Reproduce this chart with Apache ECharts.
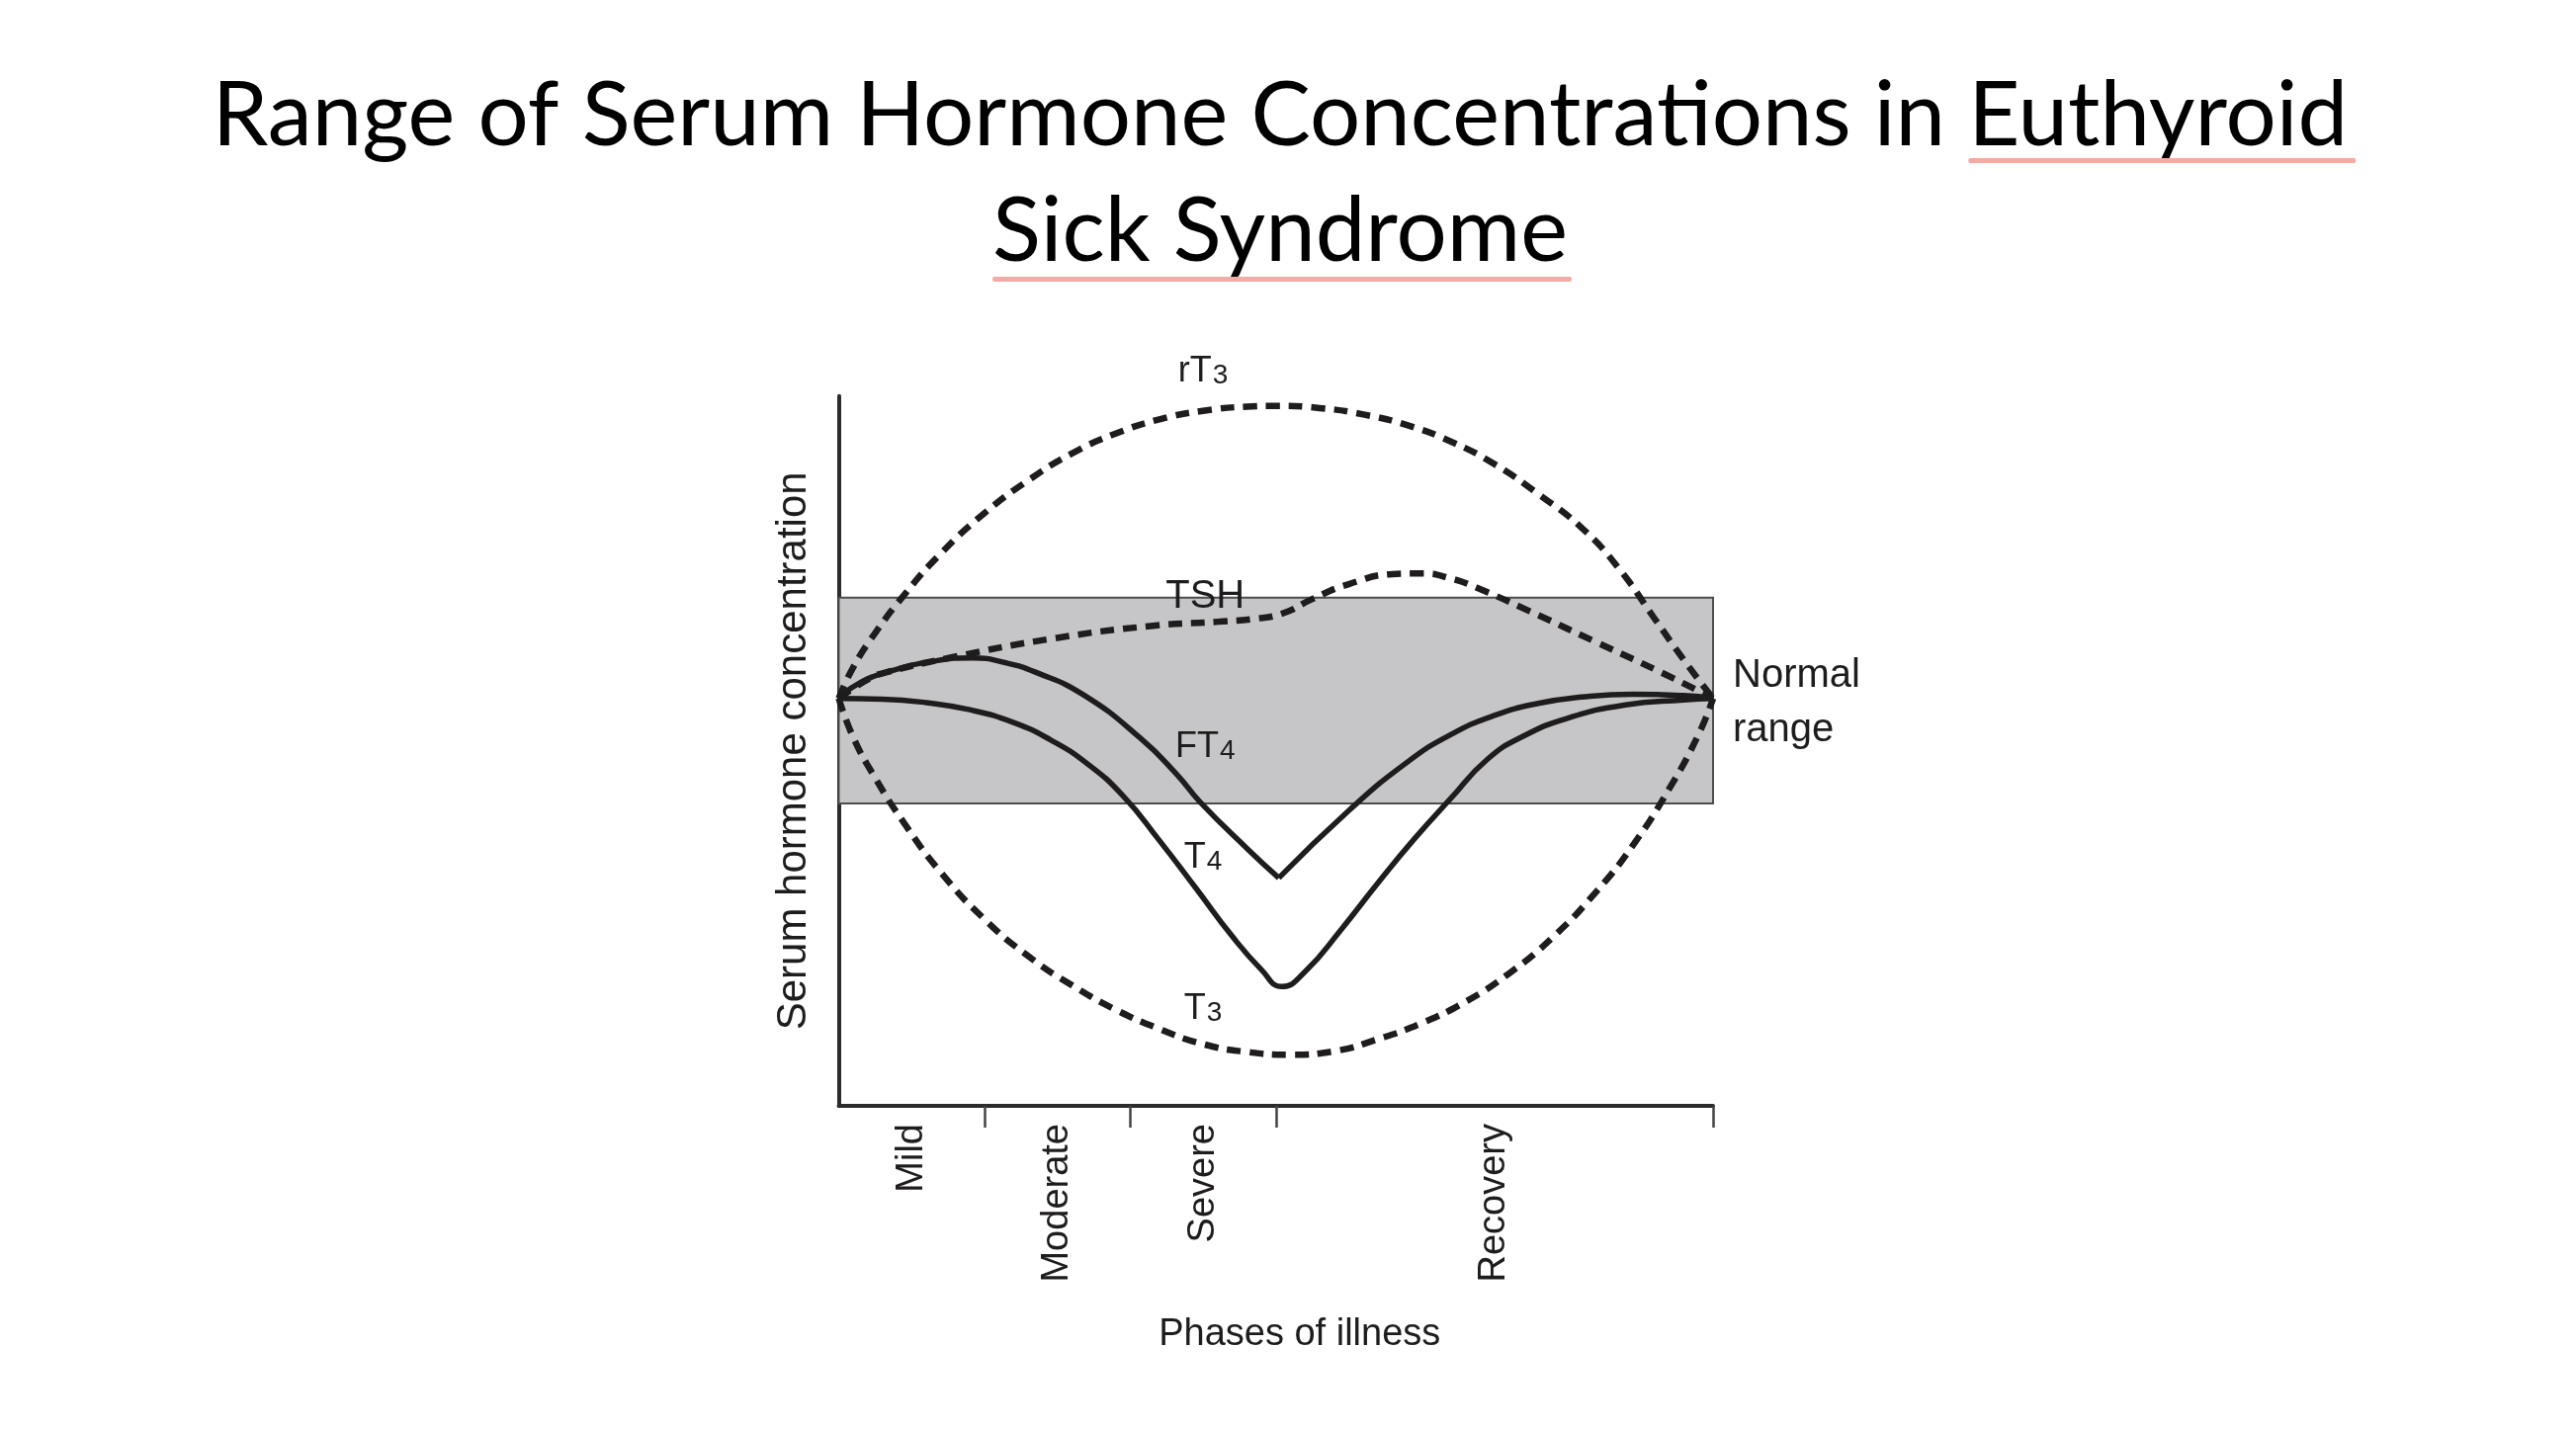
<!DOCTYPE html>
<html>
<head>
<meta charset="utf-8">
<script src="https://cdn.jsdelivr.net/npm/echarts@6.0.0/dist/echarts.min.js"></script>
<style>
html,body{margin:0;padding:0;background:#fff;}
#c{width:2606px;height:1448px;}
</style>
</head>
<body>
<div id="c"></div>
<script>
// ---------- data ----------
const titleLines = ['Range of Serum Hormone Concentrations in Euthyroid', 'Sick Syndrome'];
const underlinedWords = ['Euthyroid', 'Sick Syndrome'];
const xAxisTitle = 'Phases of illness';
const yAxisTitle = 'Serum hormone concentration';
const phaseNames = ['Mild', 'Moderate', 'Severe', 'Recovery'];
const phaseBounds = [0, 1, 2, 3, 6];
const normalRange = [42.6, 71.6];

const rT3 = [[0,57.4],[0.1,61.8],[0.25,66.6],[0.45,72.0],[0.7,77.8],[1.0,83.5],[1.3,88.1],[1.6,91.9],[1.9,94.7],[2.2,96.7],[2.5,97.9],[2.8,98.5],[3.0,98.6],[3.3,98.3],[3.6,97.4],[3.9,95.9],[4.2,93.6],[4.5,90.4],[4.8,86.2],[5.1,81.4],[5.35,75.8],[5.6,68.6],[5.8,62.8],[6,57.4]];
const tsh = [[0,57.4],[0.21,60.2],[0.33,61.1],[0.78,63.2],[1.46,65.8],[2.14,67.6],[2.6,68.2],[2.85,68.6],[3.05,69.4],[3.25,71.4],[3.5,73.5],[3.8,74.9],[4.0,75.0],[4.2,74.3],[4.4,72.8],[4.74,69.7],[5.19,65.4],[5.64,61.1],[6,57.4]];
const ft4 = [[0,57.4],[0.12,59.3],[0.33,61.1],[0.67,62.7],[0.92,63.1],[1.15,62.4],[1.35,61.1],[1.68,57.9],[2.07,51.8],[2.32,46.7],[2.48,42.8],[2.81,36.1],[3.02,32.1],[3.5,41.6],[3.9,48.4],[4.2,52.3],[4.5,55.0],[4.8,56.7],[5.1,57.6],[5.45,58.0],[5.8,57.8],[6,57.4]];
const t4 = [[0,57.4],[0.3,57.3],[0.6,56.8],[0.9,55.8],[1.2,54.0],[1.45,51.6],[1.7,48.3],[1.95,43.7],[2.2,37.4],[2.45,30.7],[2.7,23.9],[2.9,19.2],[3.04,16.8],[3.2,18.9],[3.45,24.9],[3.7,31.4],[3.95,37.6],[4.2,43.3],[4.45,48.8],[4.7,52.1],[5.0,54.6],[5.4,56.5],[5.8,57.2],[6,57.4]];
const t3 = [[0,57.4],[0.1,51.9],[0.25,46.2],[0.45,39.8],[0.7,32.9],[1.0,26.3],[1.3,21.1],[1.6,17.0],[1.9,13.55],[2.2,10.85],[2.5,8.7],[2.8,7.6],[3.1,7.2],[3.4,7.7],[3.7,9.4],[4.0,11.65],[4.3,14.65],[4.6,18.65],[4.9,23.75],[5.2,30.2],[5.45,36.7],[5.7,44.7],[5.9,52.3],[6,57.4]];

const labelMain = ['rT', 'TSH', 'FT', 'T', 'T', 'Normal\nrange'];
const labelSub  = ['3', '', '4', '4', '3', ''];
const labelX    = [2.50, 2.515, 2.515, 2.50, 2.50, 6.136];
const labelY    = [103.4, 71.7, 50.5, 34.9, 13.6, 56.7];

// ---------- build ----------
const FONT = 'Liberation Sans, Arial, sans-serif';
const TITLE_FONT_FAMILY = 'Lato, "Liberation Sans", sans-serif';
const TITLE_SIZE = 90.5;
const TITLE_CX = 1295;
const INK = '#1e1c1d';

const mids = phaseNames.map((n, i) => (phaseBounds[i] + phaseBounds[i + 1]) / 2);

// split FT4 at its V minimum so the V stays sharp
let ftMinIdx = 0;
ft4.forEach((p, i) => { if (p[1] < ft4[ftMinIdx][1]) ftMinIdx = i; });
const ft4a = ft4.slice(0, ftMinIdx + 1);
const ft4b = ft4.slice(ftMinIdx);

function curve(name, data, dashed) {
  return {
    name, type: 'line', data, smooth: 0.5,
    showSymbol: false, symbol: 'none', silent: true, z: 3,
    lineStyle: { color: INK, width: dashed ? 6.5 : 5.5, type: dashed ? [14, 9] : 'solid', cap: 'butt', join: 'round' }
  };
}

// text measurement for the title underlines
const mctx = document.createElement('canvas').getContext('2d');
mctx.font = TITLE_SIZE + 'px ' + TITLE_FONT_FAMILY;
const w1 = mctx.measureText(titleLines[0]).width;
const w2 = mctx.measureText(titleLines[1]).width;
const pre1 = mctx.measureText(titleLines[0].slice(0, titleLines[0].indexOf(underlinedWords[0]))).width;
const l1x = TITLE_CX - w1 / 2, l2x = TITLE_CX - w2 / 2;

const labelData = labelMain.map((m, i) => ({
  name: m,
  value: [labelX[i], labelY[i]],
  sub: labelSub[i],
  label: i === 5 ? { align: 'left' } : {}
}));

const chart = echarts.init(document.getElementById('c'), null, { renderer: 'canvas' });
chart.setOption({
  animation: false,
  backgroundColor: '#ffffff',
  grid: { left: 848.5, right: 873, top: 400.7, bottom: 329, containLabel: false },
  xAxis: {
    type: 'value', min: phaseBounds[0], max: phaseBounds[phaseBounds.length - 1],
    axisLine: { show: true, lineStyle: { color: '#2b2b2b', width: 4 } },
    axisTick: { show: true, customValues: phaseBounds.slice(1), length: 22, lineStyle: { color: '#444', width: 2.5 } },
    axisLabel: {
      customValues: mids, rotate: 90, margin: 18, fontSize: 38, color: INK, fontFamily: FONT,
      formatter: v => phaseNames[mids.indexOf(v)]
    },
    splitLine: { show: false },
    name: xAxisTitle, nameLocation: 'middle', nameGap: 213,
    nameTextStyle: { fontSize: 38, color: INK, fontFamily: FONT, padding: [0, 0, 0, 48] }
  },
  yAxis: {
    type: 'value', min: 0, max: 100,
    axisLine: { show: true, lineStyle: { color: '#2b2b2b', width: 4 } },
    axisTick: { show: false }, axisLabel: { show: false }, splitLine: { show: false },
    name: yAxisTitle, nameLocation: 'middle', nameGap: 24,
    nameTextStyle: { fontSize: 42, color: INK, fontFamily: FONT }
  },
  series: [
    {
      name: 'band', type: 'line', data: [], z: 1, silent: true,
      markArea: {
        silent: true,
        itemStyle: { color: '#c6c6c8', borderColor: '#4d4d4d', borderWidth: 2 },
        data: [[{ xAxis: phaseBounds[0], yAxis: normalRange[0] }, { xAxis: phaseBounds[phaseBounds.length - 1], yAxis: normalRange[1] }]]
      }
    },
    curve('rT3', rT3, true),
    curve('T3', t3, true),
    curve('TSH', tsh, true),
    curve('T4', t4, false),
    curve('FT4a', ft4a, false),
    curve('FT4b', ft4b, false),
    {
      name: 'labels', type: 'scatter', data: labelData, symbolSize: 0.01, clip: false, silent: true, z: 6,
      itemStyle: { color: INK, opacity: 1 },
      label: {
        show: true, position: 'inside', color: INK, fontFamily: FONT,
        formatter: p => p.data.sub ? '{m|' + p.name + '}{s|' + p.data.sub + '}' : '{p|' + p.name + '}',
        rich: {
          m: { fontSize: 36, lineHeight: 36, verticalAlign: 'top', color: INK, fontFamily: FONT },
          s: { fontSize: 28, lineHeight: 28, verticalAlign: 'bottom', padding: [16, 0, 0, 1], color: INK, fontFamily: FONT },
          p: { fontSize: 40, lineHeight: 55, color: INK, fontFamily: FONT, align: 'left' }
        }
      }
    }
  ],
  graphic: [
    { type: 'text', x: TITLE_CX, y: 118, silent: true,
      style: { text: titleLines[0], fontSize: TITLE_SIZE, fontFamily: TITLE_FONT_FAMILY, fill: '#000', align: 'center', verticalAlign: 'middle' } },
    { type: 'text', x: TITLE_CX, y: 235, silent: true,
      style: { text: titleLines[1], fontSize: TITLE_SIZE, fontFamily: TITLE_FONT_FAMILY, fill: '#000', align: 'center', verticalAlign: 'middle' } },
    { type: 'rect', silent: true, shape: { x: l1x + pre1, y: 160, width: w1 - pre1 + 8, height: 5, r: 2 }, style: { fill: '#f4aaa5' } },
    { type: 'rect', silent: true, shape: { x: l2x, y: 280, width: w2 + 4, height: 5, r: 2 }, style: { fill: '#f4aaa5' } }
  ]
});
</script>
</body>
</html>
